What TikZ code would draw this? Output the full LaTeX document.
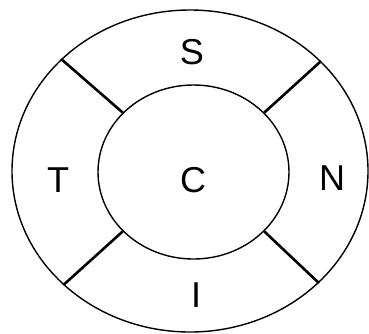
\documentclass[tikz,border=0pt]{standalone}
\usepackage{fontspec}
\setmainfont{Liberation Sans}
\usetikzlibrary{shapes.geometric}

\begin{document}
\begin{tikzpicture}[
  x=1pt,y=-1pt,
  ring/.style={ellipse,draw=black,line width=1.4pt,inner sep=0pt},
  spoke/.style={draw=black,line width=2.6pt},
  letter/.style={font=\fontsize{36}{40}\selectfont,inner sep=0pt}
]
\useasboundingbox (0,0) rectangle (369,333);
\node[ring,minimum width=356pt,minimum height=322pt] (outer) at (190,171) {};
\node[ring,minimum width=191pt,minimum height=174pt] (inner) at (193.5,172) {};
% segments of the outer ring
\draw[spoke] (inner.140)--(outer.139);
\draw[spoke] (inner.40)--(outer.40);
\draw[spoke] (inner.220)--(outer.222);
\draw[spoke] (inner.320)--(outer.319);
\node[letter] (s) at (192,52) {S};
\node[letter] (t) at (58,180) {T};
\node[letter] (c) at (193,180) {C};
\node[letter] (n) at (332,178) {N};
\node[letter] (i) at (196,295) {I};
\end{tikzpicture}
\end{document}
